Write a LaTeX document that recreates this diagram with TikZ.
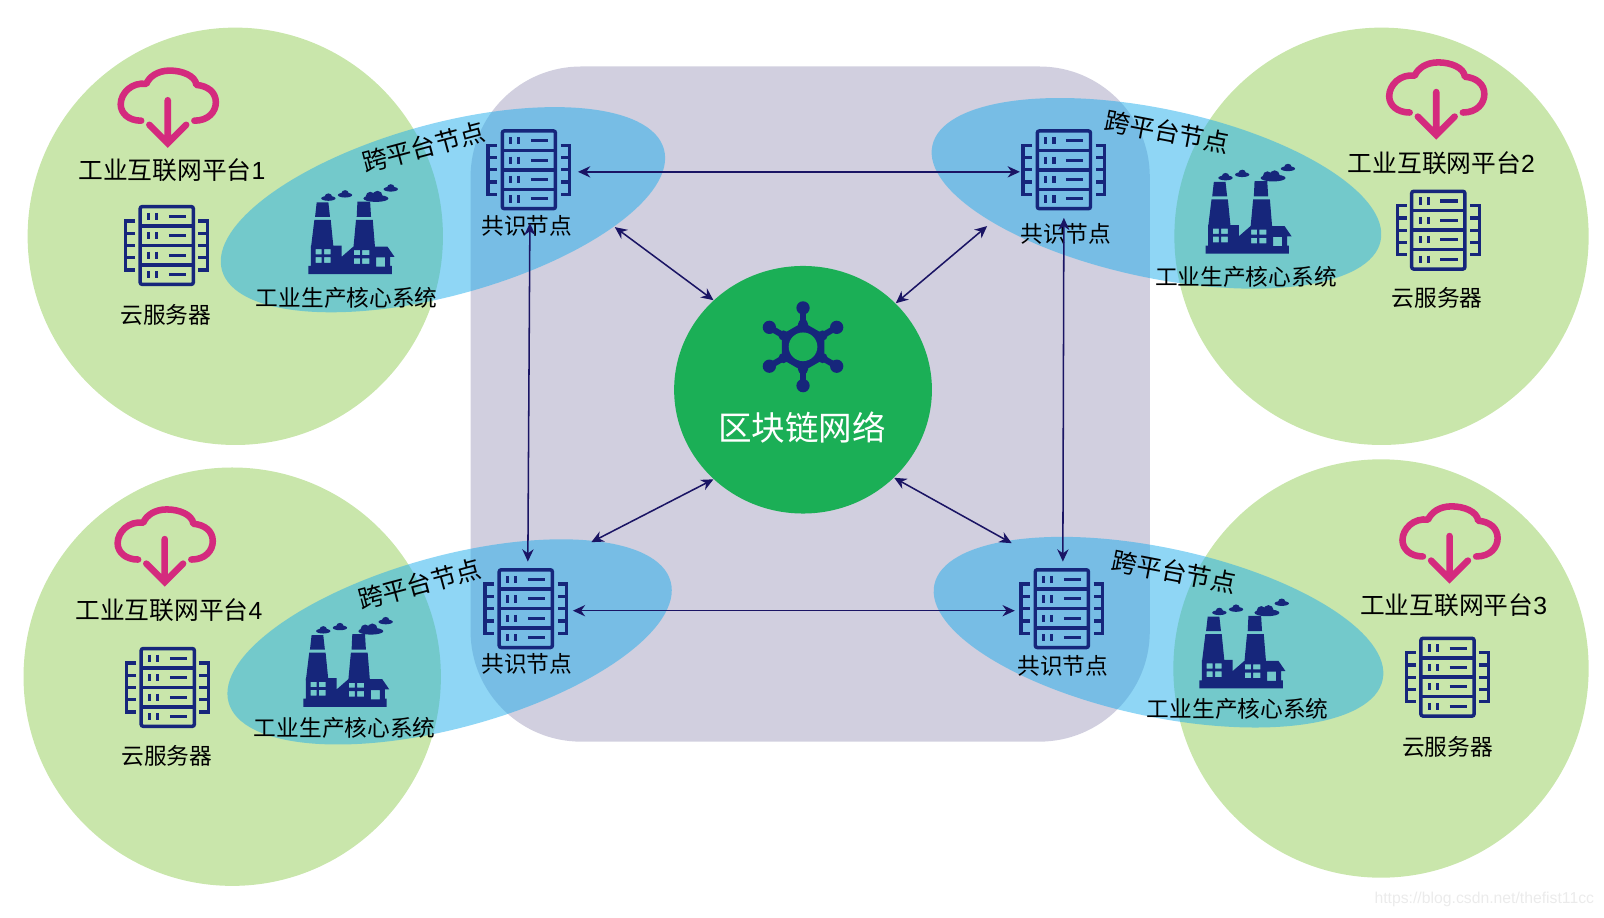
\documentclass[tikz,border=0pt]{standalone}
\usepackage{fontspec}
\setmainfont{Noto Sans CJK SC}
\newfontfamily\latinf{Liberation Sans}
\usetikzlibrary{arrows.meta,shapes.geometric}
\definecolor{navy}{HTML}{16267B}
\definecolor{linknavy}{HTML}{1A1464}
\definecolor{pinkc}{HTML}{D42A7E}
\definecolor{leaf}{HTML}{C9E6AB}
\definecolor{slab}{HTML}{D1CFDF}
\definecolor{sky}{HTML}{1FADEB}
\definecolor{hubgreen}{HTML}{1BAF56}
\newcommand{\smokepuff}[3]{%
  \fill[navy] (#1,#2+1.3) ellipse[x radius=#3,y radius=2.4];
  \fill[navy] (#1,#2-0.6) ellipse[x radius=0.5*#3,y radius=2.9];
}
\tikzset{
  x=0.5pt,y=-0.5pt,
  platform/.style={fill=leaf,draw=none},
  crossnode/.style={fill=sky,fill opacity=0.5,draw=none},
  link/.style={draw=linknavy,line width=0.75pt,{Stealth[length=6pt,width=5.5pt]}-{Stealth[length=6pt,width=5.5pt]}},
  lab/.style={inner sep=0pt,font=\fontsize{11.1}{13}\selectfont,text=black},
  plat/.style={inner sep=0pt,font=\fontsize{12.1}{14}\selectfont,text=black},
  cross/.style={inner sep=0pt,font=\fontsize{12.3}{14}\selectfont,text=black},
  serverpic/.pic={
    \draw[navy,line width=1.7pt,rounded corners=1pt] (-26,-38) rectangle (26,38);
    \foreach \yy in {-19,0,19} \draw[navy,line width=1.7pt] (-26,\yy) -- (26,\yy);
    \foreach \yy in {-28.5,-9.5,9.5,28.5}{
      \draw[navy,line width=1.5pt] (-17.7,\yy-3.5) -- (-17.7,\yy+3.5);
      \draw[navy,line width=1.5pt] (-9.7,\yy-3.5) -- (-9.7,\yy+3.5);
      \draw[navy,line width=1.5pt] (2,\yy) -- (19,\yy);
    }
    \draw[navy,line width=1.6pt] (-31,-24) -- (-40,-24) -- (-40,24) -- (-31,24);
    \draw[navy,line width=1.6pt] (-40,-12) -- (-31,-12) (-40,0) -- (-31,0) (-40,12) -- (-31,12);
    \draw[navy,line width=1.6pt] (31,-24) -- (40,-24) -- (40,24) -- (31,24);
    \draw[navy,line width=1.6pt] (40,-12) -- (31,-12) (40,0) -- (31,0) (40,12) -- (31,12);
  },
  factorypic/.pic={
    \fill[navy] (7.6,17.8) -- (19,17.8) -- (20.6,32) -- (6,32) -- cycle;
    \fill[navy] (5.3,35) -- (21.3,35) -- (24,62) -- (2,62) -- cycle;
    \fill[navy] (47.4,17) -- (59.8,17) -- (60.7,32) -- (46.7,32) -- cycle;
    \fill[navy] (46,35) -- (62.4,35) -- (64.6,62) -- (43.5,62) -- cycle;
    \fill[navy,even odd rule] (-0.5,88) -- (-0.5,80) -- (2,80) -- (2,60) -- (32,60) -- (32,71) -- (43.5,61) -- (76.7,61) -- (83.6,71) -- (79.3,71) -- (79.3,80) -- (81,80) -- (81,88) -- cycle
      (6.6,63.5) rectangle (12.5,68.7) (14.8,63.5) rectangle (21.3,68.7)
      (6.6,71.3) rectangle (12.5,77) (14.8,71.3) rectangle (21.3,77)
      (44,64.5) rectangle (50,69.3) (52,64.5) rectangle (59,69.3)
      (44,72.6) rectangle (50,78) (52,72.6) rectangle (59,78)
      (65.6,71.6) rectangle (74.4,80.7);
    \smokepuff{19}{12.6}{7}
    \smokepuff{35.3}{9.4}{7}
    \smokepuff{80}{3.6}{7}
    \fill[navy] (65.5,14) ellipse[x radius=12.2,y radius=3.4];
    \fill[navy] (60,12) circle[radius=4.5];
    \fill[navy] (67,11.5) circle[radius=5];
  },
  cloudpic/.pic={
    \draw[pinkc,line width=3.2pt,line cap=round,line join=round]
      (26,13) .. controls (40,13) and (47,4) .. (47,-5)
      .. controls (47,-15) and (39,-21) .. (28,-22)
      .. controls (27,-31) and (14,-36) .. (2,-36)
      .. controls (-10,-36) and (-18,-30) .. (-21,-23)
      .. controls (-35,-25) and (-46,-14) .. (-46,-3)
      .. controls (-46,6) and (-38,13) .. (-26,13);
    \draw[pinkc,line width=3.2pt,line cap=round,line join=miter] (0,-7) -- (0,34) (-18,17) -- (0,35) -- (18,17);
  },
  hubpic/.pic={
    \foreach \a in {30,90,150,210,270,330}{
      \draw[navy,line width=3pt] (0,0) -- (\a:38);
      \fill[navy] (\a:38) circle[radius=6.5];
      \fill[navy] (\a:22) circle[radius=5];
    }
    \fill[navy] (30:24) -- (90:24) -- (150:24) -- (210:24) -- (270:24) -- (330:24) -- cycle;
    \fill[hubgreen] (0,0) circle[radius=14];
  }
}
\begin{document}
\begin{tikzpicture}
\useasboundingbox (0,0) rectangle (1568,897.4);
% slab
\fill[slab,rounded corners=54pt] (460,65) rectangle (1124,725);
% platforms
\fill[platform] (230,231) ellipse[x radius=203,y radius=204];
\fill[platform] (1350.5,231) ellipse[x radius=202.5,y radius=204];
\fill[platform] (227,661.5) ellipse[x radius=204,y radius=204.5];
\fill[platform] (1350,653.5) ellipse[x radius=203,y radius=204.5];
% cross-platform ellipses
\fill[crossnode,rotate around={15.3:(433,205)}] (433,205) ellipse[x radius=224,y radius=84];
\fill[crossnode,rotate around={-12:(1130.5,189)}] (1130.5,189) ellipse[x radius=224,y radius=82.5];
\fill[crossnode,rotate around={15.3:(439.5,627.5)}] (439.5,627.5) ellipse[x radius=224,y radius=84];
\fill[crossnode,rotate around={-12:(1132.5,618)}] (1132.5,618) ellipse[x radius=224,y radius=82.5];
% hub
\node[ellipse,fill=hubgreen,draw=none,minimum width=126pt,minimum height=121pt,inner sep=0pt] (hub) at (785,381) {};
\pic at (785,339) {hubpic};
\node[inner sep=0pt,text=white,font=\fontsize{16.4}{18}\selectfont] (hubtext) at (784,418) {区块链网络};
% icons
\pic at (517,166) {serverpic};
\pic at (1040,166) {serverpic};
\pic at (514,595) {serverpic};
\pic at (1038,595) {serverpic};
\pic at (163,240) {serverpic};
\pic at (1406,225) {serverpic};
\pic at (164,672) {serverpic};
\pic at (1415,662) {serverpic};
\pic at (302,180) {factorypic};
\pic at (1179,160) {factorypic};
\pic at (297,603) {factorypic};
\pic at (1173,585) {factorypic};
\pic at (164,105) {cloudpic};
\pic at (1404,97) {cloudpic};
\pic at (161,534) {cloudpic};
\pic at (1417,531) {cloudpic};
% labels
\node[plat] (p1) at (168,166) {工业互联网平台{\latinf 1}};
\node[plat] (p2) at (1409,159) {工业互联网平台{\latinf 2}};
\node[plat] (p4) at (165,596) {工业互联网平台{\latinf 4}};
\node[plat] (p3) at (1421,592) {工业互联网平台{\latinf 3}};
\node[lab] (s1) at (162,308) {云服务器};
\node[lab] (s2) at (1405,291) {云服务器};
\node[lab] (s4) at (163,739) {云服务器};
\node[lab] (s3) at (1415,730) {云服务器};
\node[lab] (f1) at (339,291) {工业生产核心系统};
\node[lab] (f2) at (1218,271) {工业生产核心系统};
\node[lab] (f4) at (337,712) {工业生产核心系统};
\node[lab] (f3) at (1210,693) {工业生产核心系统};
\node[lab] (c1) at (515,221) {共识节点};
\node[lab] (c2) at (1042,229) {共识节点};
\node[lab] (c4) at (515,649) {共识节点};
\node[lab] (c3) at (1039,651) {共识节点};
\node[cross,rotate=15] (x1) at (414,144) {跨平台节点};
\node[cross,rotate=-11] (x2) at (1141,129) {跨平台节点};
\node[cross,rotate=15] (x4) at (410,571) {跨平台节点};
\node[cross,rotate=-11] (x3) at (1148,559) {跨平台节点};
\node[inner sep=0pt,text=black!8,font=\latinf\fontsize{7.7}{10}\selectfont] (wm) at (1451,879) {https://blog.csdn.net/thefist11cc};
% ports
\coordinate (tlE) at (565,168);
\coordinate (trW) at (997,168);
\coordinate (blE) at (560,597);
\coordinate (brW) at (992,597);
\coordinate (tlS) at (518,218);
\coordinate (blN) at (516,549);
\coordinate (trS) at (1040,213);
\coordinate (brN) at (1039,549);
\coordinate (tlD) at (601,222);
\coordinate (trD) at (965,221);
\coordinate (blD) at (578,530);
\coordinate (brD) at (989,531);
% connectors
\draw[link] (tlE) -- (trW);
\draw[link] (blE) -- (brW);
\draw[link] (tlS) -- (blN);
\draw[link] (trS) -- (brN);
\draw[link] (tlD) -- (hub.135);
\draw[link] (trD) -- (hub.43);
\draw[link] (blD) -- (hub.225);
\draw[link] (brD) -- (hub.316);
\end{tikzpicture}
\end{document}
